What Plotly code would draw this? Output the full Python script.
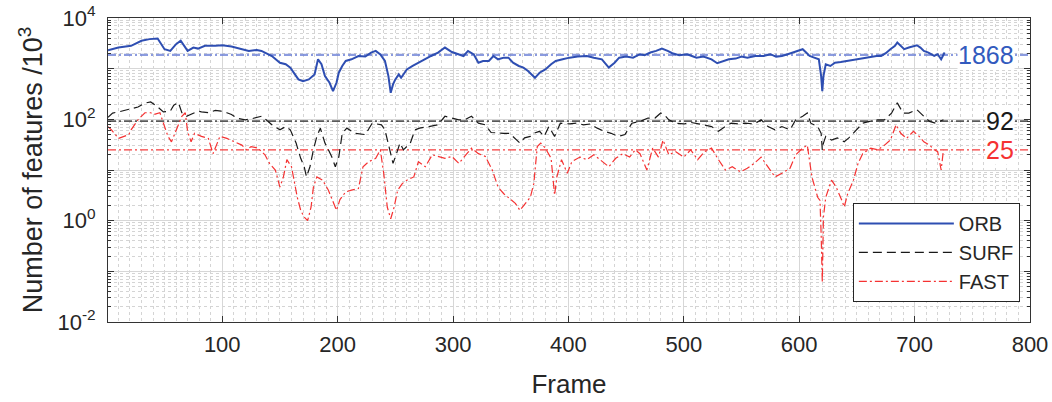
import numpy as np
import plotly.graph_objects as go

# ---------------- data ----------------
orb_frames = [1,10,21,30,37,44,50,55,60,64,70,75,79,85,94,100,108,115,123,130,
              134,143,150,155,159,163,166,170,175,180,183,186,189,193,196,199,201,204,207,212,
              218,224,229,233,237,241,244,246,248,250,253,255,260,265,270,276,281,287,293,299,
              305,309,313,318,322,326,331,335,339,344,348,352,357,361,365,368,371,375,380,385,
              389,395,401,408,416,422,429,435,440,444,450,456,462,466,471,476,481,486,490,496,
              503,507,511,517,524,529,534,539,545,550,555,562,569,575,580,585,590,595,600,603,
              606,609,613,617,619,620,621,623,627,631,636,641,647,652,657,662,667,671,675,679,
              683,685,688,691,695,699,702,705,708,712,717,720,723,726]
orb_values = [2300,2610,2820,3550,3830,3950,2420,2240,3040,3550,2240,2610,2490,2820,2820,2900,2740,2490,2240,2340,
              2240,1780,1310,1220,1050,771,614,568,614,771,1530,1220,714,526,360,526,832,1130,1420,1530,
              1780,1740,2080,2240,1910,1420,714,333,488,614,771,660,968,1130,1310,1530,1780,2080,2610,2130,
              1910,1780,2240,1910,1310,1420,1420,1780,1530,1650,1650,1310,1130,1050,897,771,660,832,968,1220,
              1420,1530,1650,1730,1780,1650,1530,1050,1310,1650,1730,1650,1930,1840,2080,2240,2500,2240,2020,1840,
              1930,1780,1650,1730,1530,1280,1420,1530,1580,1730,1650,1780,1780,1930,1730,1780,1930,2080,2240,2420,
              2080,1780,1650,1530,714,360,714,1220,1130,1310,1360,1420,1530,1580,1650,1730,1780,1780,2020,2420,
              2820,3280,2820,2420,2610,2820,2900,2610,2240,2080,1780,1930,1530,2080]

surf_frames = [1,5,10,16,21,27,33,38,43,49,55,58,62,65,69,73,79,82,88,94,
               99,104,108,113,120,125,128,134,138,143,150,155,159,164,168,171,173,176,179,182,
               185,189,192,195,198,201,204,208,215,224,230,238,241,245,248,251,254,257,260,263,
               267,271,279,287,293,299,305,310,316,322,328,333,339,344,349,355,358,362,367,370,
               375,379,383,388,393,401,407,413,419,425,431,437,443,449,455,462,469,475,480,483,
               487,493,500,506,511,517,524,530,536,541,547,553,561,567,573,579,585,592,597,603,
               607,610,616,619,620,621,623,628,633,639,643,647,655,661,668,674,680,685,690,695,
               702,708,713,718,722,725]
surf_values = [110,133,140,150,160,175,210,220,185,140,145,190,215,135,115,125,145,140,135,150,
               145,135,125,105,98,102,105,115,98,78,62,72,62,34,17,11.6,7.3,11.6,25,46,
               67,34,25,18,11.6,18,53,67,53,50,84,78,62,25,13.5,21,34,25,29,34,
               62,67,72,78,115,105,98,98,115,84,78,55,53,53,53,39,34,43,46,53,
               58,46,72,46,84,81,84,78,81,67,58,53,46,50,84,91,106,106,133,124,
               98,84,81,87,84,78,72,58,72,84,81,84,81,98,72,62,72,62,98,115,
               133,84,72,53,25,34,46,39,43,36,43,53,84,91,98,98,133,211,133,133,
               155,115,91,84,91,98]

fast_frames = [1,4,10,13,19,21,27,33,38,41,46,50,53,56,59,62,65,68,70,73,
               76,82,88,92,98,104,111,117,121,125,131,137,141,146,150,153,156,160,165,168,
               171,174,177,179,182,187,192,197,199,202,207,212,218,222,227,233,237,240,243,246,
               249,252,256,260,266,270,276,282,287,293,299,305,310,316,322,328,334,339,344,349,
               354,358,363,367,370,373,376,380,385,388,390,394,399,403,410,416,422,429,435,441,
               447,453,458,462,468,473,478,482,487,493,500,506,512,518,524,530,536,542,549,555,
               561,567,573,579,585,592,597,603,607,611,616,618,619,620,621,623,628,632,637,639,
               642,647,651,655,662,668,674,679,684,688,693,699,704,708,713,717,720,723,725]
fast_values = [72,62,42,45,50,62,98,135,135,125,135,72,46,36,53,72,115,135,57,36,
               53,46,42,21,46,42,36,31,25,29,27,20,13.5,10,4.6,7.3,16,11.6,2.9,1.6,
               1.18,1.0,1.86,4.6,7.3,6.3,4.0,2.2,1.6,2.6,3.7,4.0,4.3,11.6,14.6,17,25,8.4,1.86,1.09,
               1.86,4.0,5.4,6.3,7.3,14.6,11.6,20,18.5,17,18.5,13.5,18.5,27,21,18.5,10,4.6,3.4,2.7,
               2.2,1.6,2.2,2.9,5.4,29,34,27,17,3.2,7.3,16,8.6,14.6,18,16,20,14.6,11.6,17,
               21,18,25,21,10,27,18,39,20,23,18,25,16,23,27,16,10,11.6,9.2,10.8,
               13.5,18,11.6,7.3,8.6,10.8,20,27,31,7.3,2.9,2.5,0.55,0.06,1.18,2.9,6.3,4.6,2.5,1.86,
               3.4,6.3,13.5,21,27,25,31,39,78,53,42,58,46,36,31,25,23,10,25]

series_names = ["ORB", "SURF", "FAST"]
mean_values = [1868, 92, 25]
mean_labels = ["1868", "92", "25"]

x_range = [1, 800]
x_ticks = [100, 200, 300, 400, 500, 600, 700, 800]
y_decades = [-2, -1, 0, 1, 2, 3, 4]
y_ticktext = ["10<sup>-2</sup>", "", "10<sup>0</sup>", "", "10<sup>2</sup>", "", "10<sup>4</sup>"]

# ---------------- style ----------------
BLUE = "rgb(46,78,178)"
BLACK = "rgb(25,25,25)"
RED = "rgb(245,50,50)"
MEAN_COLORS = ["rgba(110,130,215,0.8)", "rgb(90,90,90)", "rgb(245,60,60)"]
LABEL_COLORS = ["rgb(50,90,190)", "rgb(25,25,25)", "rgb(245,50,50)"]
FONT = "Liberation Sans, Arial, sans-serif"
TXT = "#262626"

fig = go.Figure()

for mv, mc, w in zip(mean_values, MEAN_COLORS, [2.2, 1.8, 1.2]):
    fig.add_trace(go.Scatter(x=x_range, y=[mv, mv], mode="lines",
                             line=dict(color=mc, width=w, dash="8px,3px,2px,3px"),
                             showlegend=False, hoverinfo="skip"))

fig.add_trace(go.Scatter(x=orb_frames, y=orb_values, mode="lines", name=series_names[0],
                         line=dict(color=BLUE, width=2.0)))
fig.add_trace(go.Scatter(x=surf_frames, y=surf_values, mode="lines", name=series_names[1],
                         line=dict(color=BLACK, width=1.2, dash="9px,5px")))
fig.add_trace(go.Scatter(x=fast_frames, y=fast_values, mode="lines", name=series_names[2],
                         line=dict(color=RED, width=1.2, dash="8px,3px,2px,3px")))

for mv, lab, lc in zip(mean_values, mean_labels, LABEL_COLORS):
    fig.add_annotation(x=0.984, xref="paper", xanchor="right",
                       y=np.log10(mv), yref="y", yanchor="middle",
                       text=lab, showarrow=False, bgcolor="white", borderpad=0,
                       font=dict(family=FONT, size=25, color=lc))

y_minor = [m * 10.0 ** d for d in range(-2, 4) for m in range(2, 10)]
x_minor = list(range(10, 800, 10))

fig.update_xaxes(range=x_range, tickmode="array", tickvals=x_ticks, automargin=False,
                 ticks="inside", ticklen=6, tickcolor="#333", ticklabelstandoff=3,
                 ticklabeloverflow="allow",
                 showline=True, linecolor="#333", linewidth=1, mirror="ticks",
                 showgrid=True, gridcolor="rgb(215,215,215)", gridwidth=1,
                 zeroline=False,
                 minor=dict(tickmode="array", tickvals=x_minor, showgrid=True,
                            gridcolor="rgb(212,212,212)", griddash="dot", gridwidth=1,
                            ticks=""),
                 tickfont=dict(family=FONT, size=22, color=TXT),
                 title=dict(text="Frame", font=dict(family=FONT, size=26, color=TXT), standoff=18))

fig.update_yaxes(type="log", range=[-2, 4], tickmode="array", automargin=False,
                 tickvals=[10.0 ** d for d in y_decades], ticktext=y_ticktext,
                 ticks="inside", ticklen=6, tickcolor="#333", ticklabelstandoff=7,
                 ticklabeloverflow="allow",
                 showline=True, linecolor="#333", linewidth=1, mirror="ticks",
                 showgrid=True, gridcolor="rgb(215,215,215)", gridwidth=1,
                 zeroline=False,
                 minor=dict(tickmode="array", tickvals=y_minor, showgrid=True,
                            gridcolor="rgb(212,212,212)", griddash="dot", gridwidth=1,
                            ticks="inside", ticklen=3, tickcolor="#333"),
                 tickfont=dict(family=FONT, size=22, color=TXT),
                 title=dict(text="Number of features /10<sup>3</sup>",
                            font=dict(family=FONT, size=27, color=TXT), standoff=6))

fig.update_layout(width=1052, height=402, autosize=False,
                  margin=dict(l=108, r=22, t=18, b=80),
                  paper_bgcolor="white", plot_bgcolor="white",
                  font=dict(family=FONT, color=TXT),
                  legend=dict(x=0.989, xanchor="right", y=0.066, yanchor="bottom",
                              bgcolor="white", bordercolor="#262626", borderwidth=1,
                              font=dict(family=FONT, size=20, color=TXT),
                              itemwidth=95, tracegroupgap=0))

# remove the page's default body margin so the figure sits at the window's top-left corner
fig.write_html("out.html", config={"displayModeBar": False},
               post_script="document.body.style.margin='0';document.body.style.overflow='hidden';")
